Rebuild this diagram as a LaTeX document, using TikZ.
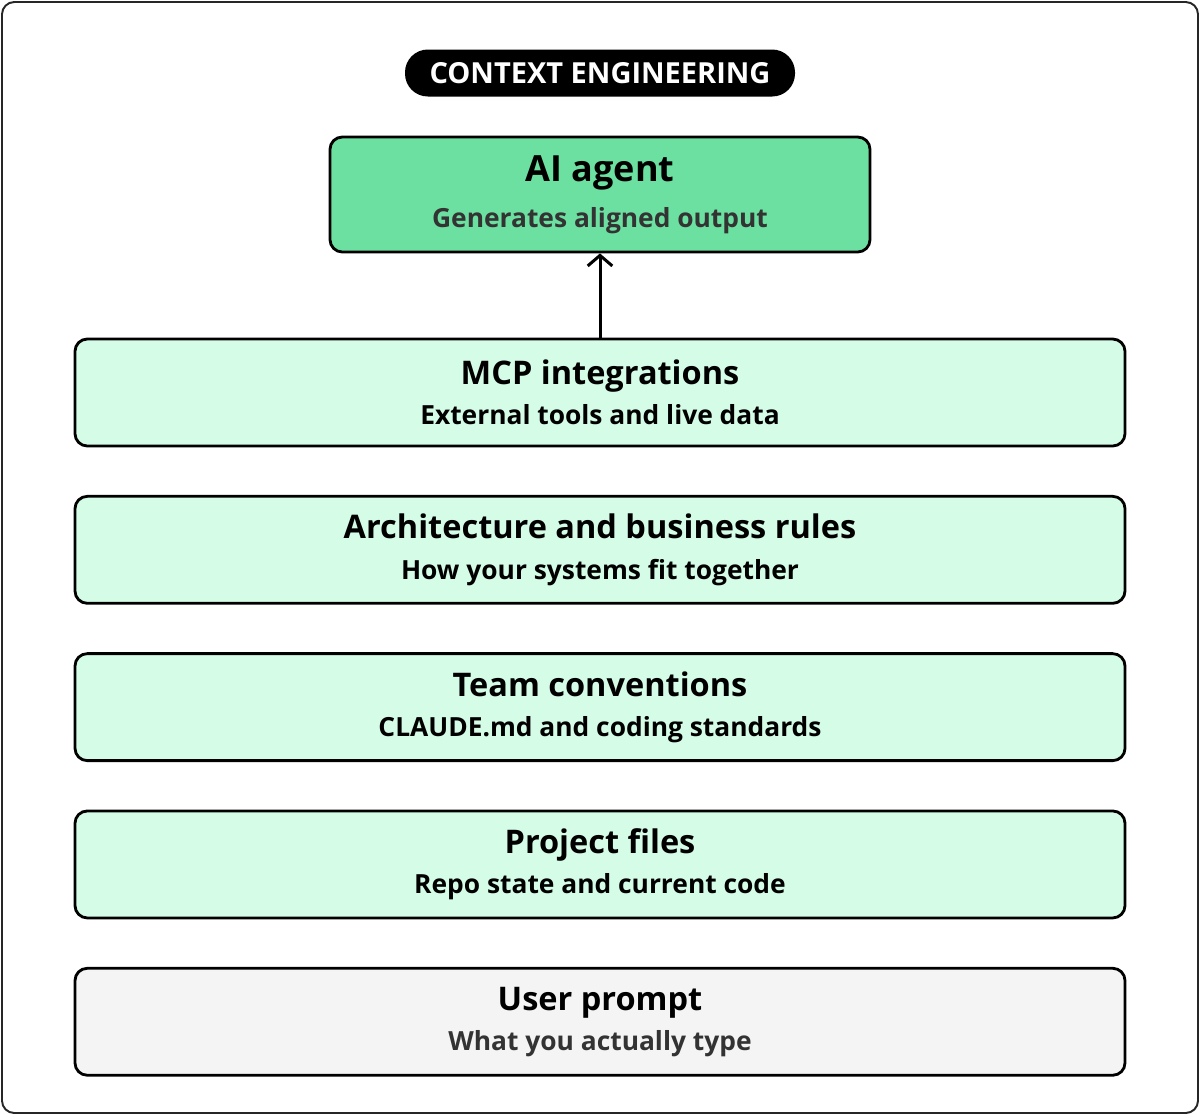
\documentclass[tikz,border=0pt]{standalone}
\usepackage{fontspec}
\setmainfont{Open Sans}
\usetikzlibrary{arrows.meta,positioning}
\definecolor{agentGreen}{HTML}{6BE0A0}
\definecolor{layerGreen}{HTML}{D5FCE6}
\definecolor{promptGray}{HTML}{F4F4F4}
\definecolor{subGray}{HTML}{333333}
\newcommand{\layertitle}[1]{{\fontsize{18.5}{23}\selectfont #1}}

\begin{document}
\begin{tikzpicture}[
  node distance=0.95cm,
  frame/.style={draw=black!85, line width=1.1pt, rounded corners=7pt},
  pill/.style={fill=black, text=white, rounded corners=13pt,
               minimum width=7.8cm, minimum height=0.94cm,
               font=\fontsize{16.5}{18}\selectfont\bfseries},
  agent/.style={draw=black, fill=agentGreen, rounded corners=7pt, line width=1.6pt,
                minimum width=10.8cm, minimum height=2.3cm, align=center, inner sep=0pt,
                font=\fontsize{15}{26}\selectfont\bfseries},
  layer/.style={draw=black, fill=layerGreen, rounded corners=7pt, line width=1.6pt,
                minimum width=21cm, minimum height=2.14cm, align=center, inner sep=0pt,
                font=\fontsize{15}{23}\selectfont\bfseries},
  prompt/.style={layer, fill=promptGray},
  arr/.style={-{Straight Barb[length=6pt,width=14pt]}, line width=1.7pt}
]
\useasboundingbox (0,0) rectangle (24,-22.3);
\draw[frame] (0.04,-0.04) rectangle (23.96,-22.26);

\node[pill]  (title) at (12,-1.46) {CONTEXT ENGINEERING};
\node[agent] (agent) at (12,-3.89)
  {{\fontsize{20.5}{26}\selectfont AI agent}\\{\color{subGray}Generates aligned output}};

\node[layer] (mcp) at (12,-7.85) {\layertitle{MCP integrations}\\External tools and live data};
\node[layer, below=of mcp]  (arch)    {\layertitle{Architecture and business rules}\\How your systems fit together};
\node[layer, below=of arch] (team)    {\layertitle{Team conventions}\\CLAUDE.md and coding standards};
\node[layer, below=of team] (project) {\layertitle{Project files}\\Repo state and current code};
\node[prompt, below=of project] (user)
  {\layertitle{User prompt}\\{\color{subGray}What you actually type}};

\draw[arr] (mcp) -- (agent);
\end{tikzpicture}
\end{document}
